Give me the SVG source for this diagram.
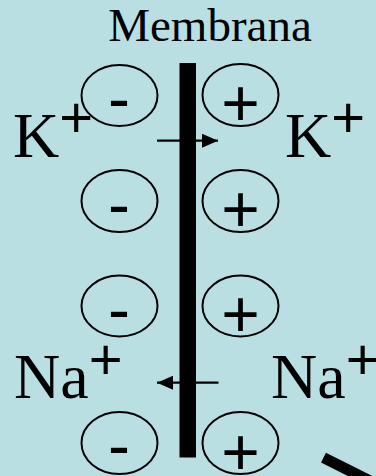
<svg xmlns="http://www.w3.org/2000/svg" width="376" height="476" viewBox="0 0 376 476">
<style>
.bg{fill:#B9DFE3}
.ion{fill:none;stroke:#000;stroke-width:2}
.sgn{font-family:"Liberation Sans",Arial,sans-serif;fill:#000;text-anchor:middle}
.lbl{font-family:"Liberation Serif","Times New Roman",serif;fill:#000}
.sup{font-family:"Liberation Sans",Arial,sans-serif;font-size:58px}
.arr{stroke:#000;stroke-width:2.2;fill:none}
</style>
<defs>
<marker id="ah" viewBox="0 0 16 14" refX="16" refY="7" markerWidth="16" markerHeight="14" markerUnits="userSpaceOnUse" orient="auto">
<path d="M0,0 L16,7 L0,14 z" fill="#000"/>
</marker>
</defs>
<rect class="bg" x="0" y="0" width="376" height="476"/>
<text class="lbl" x="210" y="41" font-size="47" text-anchor="middle">Membrana</text>
<g id="membrane"><rect x="179.5" y="63" width="16.5" height="394.5" fill="#000"/></g>
<g id="neg1"><ellipse class="ion" cx="119.5" cy="95.5" rx="38" ry="30.5"/><text class="sgn" x="119" y="121" font-size="66">-</text></g>
<g id="pos1"><ellipse class="ion" cx="240.5" cy="95" rx="38" ry="31"/><text class="sgn" x="240.5" y="126" font-size="66">+</text></g>
<g id="neg2"><ellipse class="ion" cx="119.5" cy="201" rx="38" ry="31"/><text class="sgn" x="119" y="227" font-size="66">-</text></g>
<g id="pos2"><ellipse class="ion" cx="240.5" cy="201" rx="38" ry="31"/><text class="sgn" x="240.5" y="231.5" font-size="66">+</text></g>
<g id="neg3"><ellipse class="ion" cx="119.5" cy="306" rx="38" ry="30.5"/><text class="sgn" x="119" y="332" font-size="66">-</text></g>
<g id="pos3"><ellipse class="ion" cx="240.5" cy="306" rx="38" ry="30.5"/><text class="sgn" x="240.5" y="337" font-size="66">+</text></g>
<g id="neg4"><ellipse class="ion" cx="119.5" cy="443" rx="38" ry="31"/><text class="sgn" x="119" y="468" font-size="66">-</text></g>
<g id="pos4"><ellipse class="ion" cx="240.5" cy="443" rx="38" ry="31"/><text class="sgn" x="240.5" y="474.5" font-size="66">+</text></g>
<g id="k-left"><text class="lbl" x="13" y="157" font-size="64">K<tspan class="sup" dy="-20.5">+</tspan></text></g>
<g id="k-right"><text class="lbl" x="285" y="157" font-size="64">K<tspan class="sup" dy="-20.5">+</tspan></text></g>
<g id="na-left"><text class="lbl" x="14" y="398" font-size="64">Na<tspan class="sup" dy="-19">+</tspan></text></g>
<g id="na-right"><text class="lbl" x="271" y="398" font-size="64">Na<tspan class="sup" dy="-19">+</tspan></text></g>
<g id="connectors">
<line class="arr" x1="157" y1="140.7" x2="218" y2="140.7" marker-end="url(#ah)"/>
<line class="arr" x1="218.5" y1="382.7" x2="157" y2="382.7" marker-end="url(#ah)"/>
<line x1="323.5" y1="457.7" x2="383.5" y2="487.7" stroke="#000" stroke-width="11"/>
</g>
</svg>
